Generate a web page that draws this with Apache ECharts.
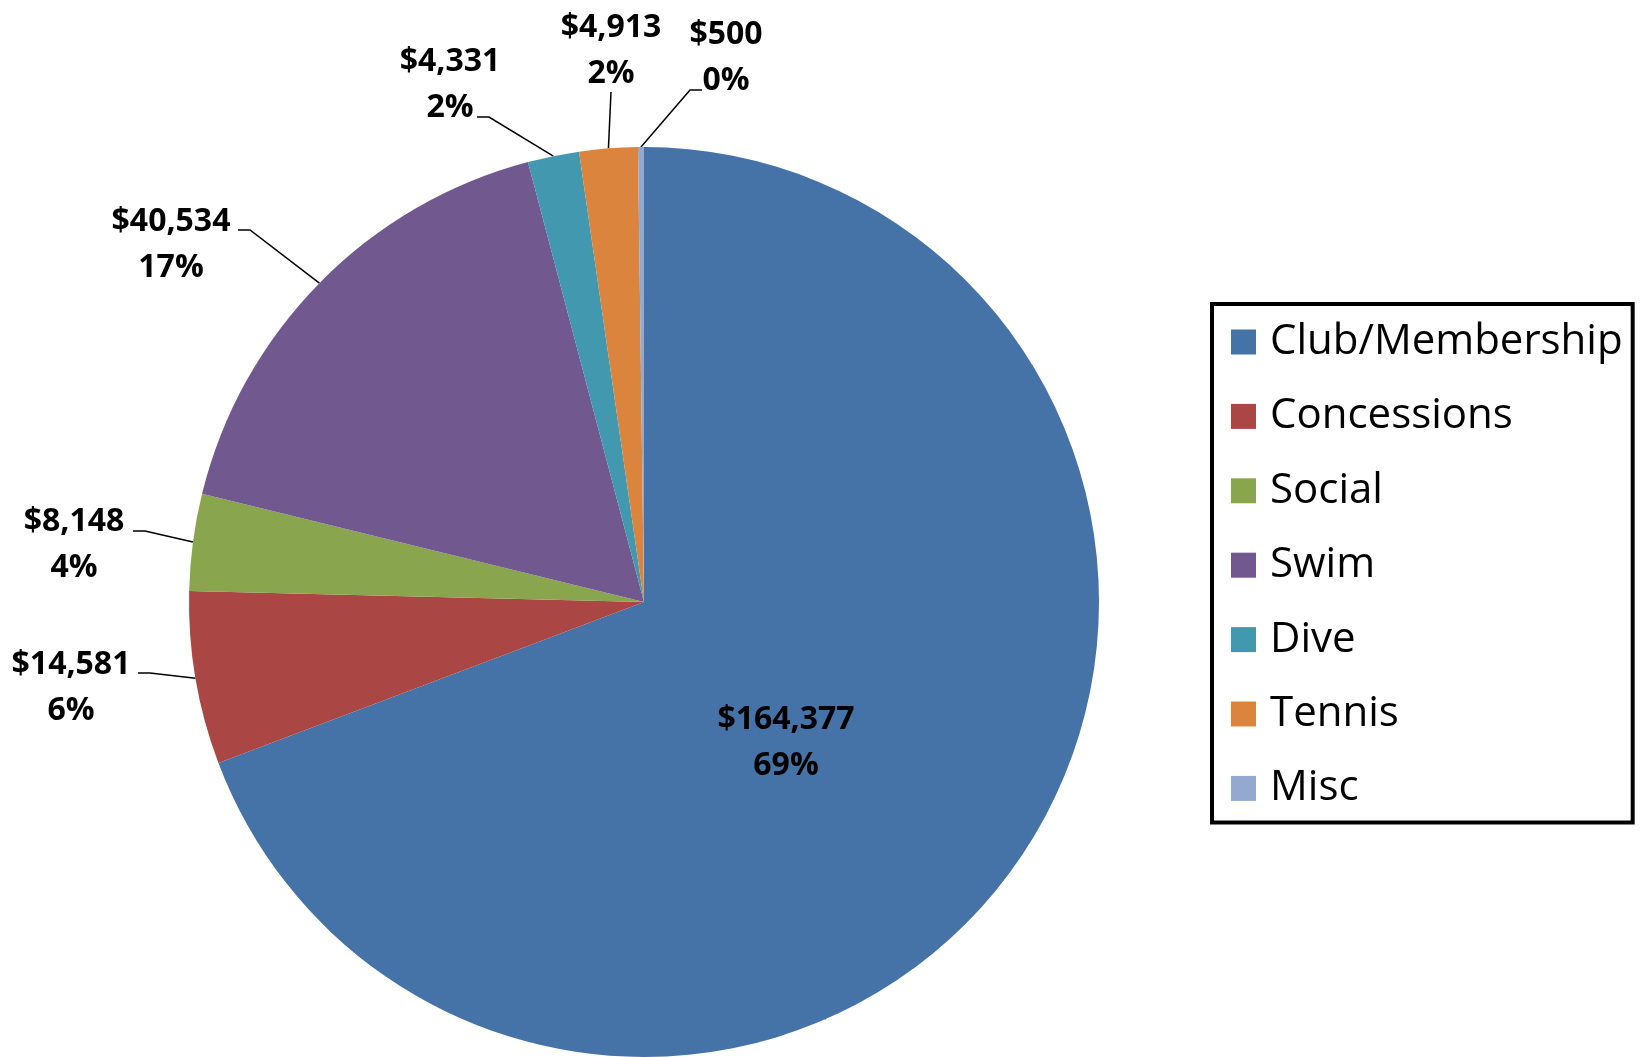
<!DOCTYPE html>
<html>
<head>
<meta charset="utf-8">
<script src="https://cdn.jsdelivr.net/npm/echarts@6/dist/echarts.min.js"></script>
<style>
html, body { margin: 0; padding: 0; background: #fff; }
#main { width: 1643px; height: 1057px; }
</style>
</head>
<body>
<div id="main"></div>
<script>
// 分类与数值
var categories = ['Club/Membership', 'Concessions', 'Social', 'Swim', 'Dive', 'Tennis', 'Misc'];
var amounts = [164377, 14581, 8148, 40534, 4331, 4913, 500];
var colors = ['#4572A7', '#AA4643', '#89A54E', '#71588F', '#4198AF', '#DB843D', '#93A9CF'];

// 标签摆放位置（中心点、引导线接点偏移、水平段方向）
var labelSpots = {
	0 : { x : 786, y : 743 },
	1 : { x : 71, y : 688, ax : 67, ay : -15, dir : 1 },
	2 : { x : 74, y : 545, ax : 59, ay : -14, dir : 1 },
	3 : { x : 171, y : 245, ax : 67, ay : -15, dir : 1 },
	4 : { x : 450, y : 85, ax : 27, ay : 32, dir : 1 },
	5 : { x : 611, y : 51, ax : 0, ay : 41, dir : 0 },
	6 : { x : 726, y : 58, ax : -24, ay : 32, dir : -1 }
};

function money(v) {
	return '$' + v.toString().replace(/\B(?=(\d{3})+(?!\d))/g, ',');
}

var pieData = [];
for (var i = 0; i < categories.length; i++) {
	var item = {
		name : categories[i],
		value : amounts[i]
	};
	if (i == 0) {
		item.label = {
			position : 'inside'
		};
	}
	pieData.push(item);
}

var myChart = echarts.init(document.getElementById('main'));

var option = {
	backgroundColor : '#fff',
	color : colors,
	animation : false,
	legend : {
		orient : 'vertical',
		left : 1212,
		top : 304,
		padding : [17, 10, 13, 19],
		borderColor : '#000',
		borderWidth : 4,
		itemWidth : 25,
		itemHeight : 25,
		itemGap : 32.4,
		icon : 'rect',
		textStyle : {
			fontFamily : 'Open Sans',
			fontSize : 42,
			lineHeight : 42,
			color : '#000',
			padding : [0, 0, 0, 9]
		},
		data : categories
	},
	series : [ {
		type : 'pie',
		center : [644, 602],
		radius : 455,
		startAngle : 90,
		clockwise : true,
		percentPrecision : 0,
		avoidLabelOverlap : false,
		data : pieData,
		label : {
			show : true,
			formatter : function(p) {
				return money(p.value) + '\n' + p.percent + '%';
			},
			fontFamily : 'Open Sans',
			fontWeight : 'bold',
			fontSize : 32,
			lineHeight : 46,
			color : '#000'
		},
		labelLine : {
			show : true,
			length : 45,
			length2 : 12,
			lineStyle : {
				color : '#000',
				width : 1.5
			}
		},
		labelLayout : function(params) {
			var s = labelSpots[params.dataIndex];
			var res = {
				x : s.x,
				y : s.y,
				align : 'center',
				verticalAlign : 'middle'
			};
			if (params.dataIndex > 0 && params.labelLinePoints) {
				var anchor = params.labelLinePoints[0];
				var px = s.x + s.ax, py = s.y + s.ay;
				res.labelLinePoints = [ anchor, [ px + s.dir * 12, py ], [ px, py ] ];
			}
			return res;
		},
		itemStyle : {
			borderWidth : 0
		}
	} ]
};

myChart.setOption(option);
</script>
</body>
</html>
